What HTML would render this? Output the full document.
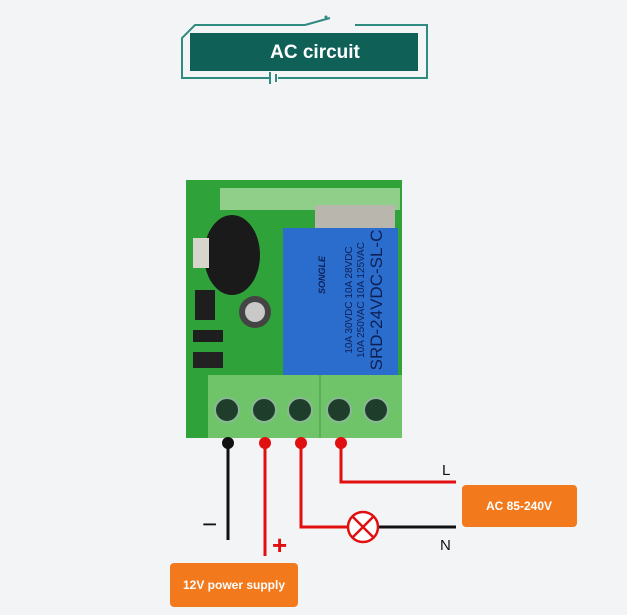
<!DOCTYPE html>
<html><head><style>
body{margin:0;width:627px;height:615px;background:#f3f4f6;position:relative;overflow:hidden;font-family:"Liberation Sans",sans-serif}
.a{position:absolute}
</style></head><body>
<svg class="a" style="left:0;top:0" width="627" height="615">
<!-- header frame -->
<g stroke="#2f8a80" stroke-width="2" fill="none">
<path d="M305 25 H195 L182 38 V78 H270 M278 78 H427 V25 H355"/>
<path d="M305 25 L330 18"/>
<line x1="270" y1="72" x2="270" y2="84"/><line x1="276" y1="74" x2="276" y2="82"/>
</g>
<circle cx="326" cy="17" r="1.5" fill="#2f8a80"/>
<rect x="190" y="33" width="228" height="38" fill="#0f6158"/>
<text x="315" y="58" text-anchor="middle" font-size="19" font-weight="bold" fill="#fff" font-family="Liberation Sans">AC circuit</text>
<!-- board -->
<rect x="186" y="180" width="216" height="258" fill="#2fa33a"/>
<rect x="220" y="188" width="180" height="22" fill="#8fcf8a"/>
<rect x="315" y="205" width="80" height="30" fill="#b9b6ae"/>
<ellipse cx="232" cy="255" rx="28" ry="40" fill="#1a1a1a"/>
<rect x="193" y="238" width="16" height="30" fill="#d6d6cc"/>
<circle cx="255" cy="312" r="16" fill="#444"/><circle cx="255" cy="312" r="10" fill="#c9c9c9"/>
<rect x="195" y="290" width="20" height="30" fill="#1e1e1e"/>
<rect x="193" y="330" width="30" height="12" fill="#1e1e1e"/>
<rect x="193" y="352" width="30" height="16" fill="#222"/>
<rect x="283" y="228" width="115" height="147" fill="#2a6dcc"/>
<g transform="translate(340,300) rotate(-90)" fill="#0e1f55" font-family="Liberation Sans" text-anchor="middle">
<text y="42" font-size="17">SRD-24VDC-SL-C</text>
<text y="24" font-size="10">10A 250VAC 10A 125VAC</text>
<text y="12" font-size="10">10A 30VDC 10A 28VDC</text>
<text x="25" y="-15" font-size="9" font-style="italic" font-weight="bold">SONGLE</text>
</g>
<rect x="208" y="375" width="194" height="63" fill="#6fc46a"/>
<line x1="320" y1="375" x2="320" y2="438" stroke="#4a9a48"/>
<g fill="#1f3d2b" stroke="#8ab894" stroke-width="2">
<circle cx="227" cy="410" r="12"/><circle cx="264" cy="410" r="12"/><circle cx="300" cy="410" r="12"/><circle cx="339" cy="410" r="12"/><circle cx="376" cy="410" r="12"/>
</g>
<!-- wires -->
<g stroke-width="3" fill="none">
<line x1="228" y1="443" x2="228" y2="540" stroke="#111"/>
<line x1="265" y1="443" x2="265" y2="556" stroke="#e01010"/>
<path d="M301 443 V527 H348" stroke="#e01010"/>
<path d="M341 443 V482 H456" stroke="#e01010"/>
<line x1="378" y1="527" x2="456" y2="527" stroke="#111"/>
</g>
<circle cx="228" cy="443" r="6" fill="#111"/>
<circle cx="265" cy="443" r="6" fill="#e01010"/>
<circle cx="301" cy="443" r="6" fill="#e01010"/>
<circle cx="341" cy="443" r="6" fill="#e01010"/>
<g stroke="#e01010" stroke-width="2.5" fill="#fff">
<circle cx="363" cy="527" r="15"/>
<line x1="352" y1="516" x2="374" y2="538"/><line x1="374" y1="516" x2="352" y2="538"/>
</g>
<text x="202" y="533" font-size="26" fill="#111">−</text>
<text x="272" y="554" font-size="26" font-weight="bold" fill="#e01010">+</text>
<text x="442" y="475" font-size="15" fill="#111">L</text>
<text x="440" y="550" font-size="15" fill="#111">N</text>
<rect x="462" y="485" width="115" height="42" rx="4" fill="#f27a1c"/>
<text x="519" y="510" text-anchor="middle" font-size="12" font-weight="bold" fill="#fff">AC 85-240V</text>
<rect x="170" y="563" width="128" height="44" rx="4" fill="#f27a1c"/>
<text x="234" y="589" text-anchor="middle" font-size="12" font-weight="bold" fill="#fff">12V power supply</text>
</svg>
</body></html>
